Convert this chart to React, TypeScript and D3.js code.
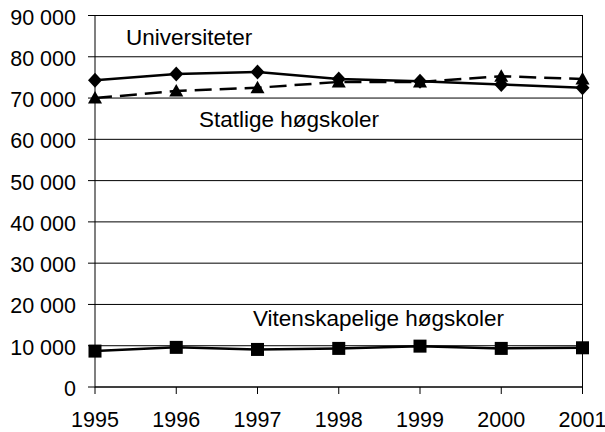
import * as d3 from "d3";

const years = [1995, 1996, 1997, 1998, 1999, 2000, 2001];
const universiteter = [74300, 75800, 76300, 74600, 74100, 73300, 72500];
const statlige = [70000, 71700, 72500, 73900, 73900, 75300, 74600];
const vitenskapelige = [8700, 9600, 9100, 9350, 9900, 9350, 9500];
const yTicks = [0, 10000, 20000, 30000, 40000, 50000, 60000, 70000, 80000, 90000];

const width = 605;
const height = 432;
const margin = { top: 15.5, right: 22.5, bottom: 45, left: 95 };

const fmt = (v: number) =>
  v === 0 ? "0" : `${Math.floor(v / 1000)} ${String(v % 1000).padStart(3, "0")}`;

export default function App() {
  const x = d3
    .scalePoint<number>()
    .domain(years)
    .range([margin.left, width - margin.right]);
  const y = d3
    .scaleLinear()
    .domain([0, 90000])
    .range([height - margin.bottom, margin.top]);

  const line = d3
    .line<number>()
    .x((_, i) => x(years[i])!)
    .y((d) => y(d));

  const font = "'Liberation Sans', Arial, sans-serif";
  const x0 = margin.left;
  const x1 = width - margin.right;
  const yb = y(0);

  return (
    <svg
      width={width}
      height={height}
      style={{ position: "absolute", left: 0, top: 0, background: "#fff" }}
      fontFamily={font}
    >
      {/* grid + y ticks */}
      {yTicks.map((t) => (
        <g key={t}>
          <line x1={x0 - 7} x2={x1} y1={y(t)} y2={y(t)} stroke="#000" strokeWidth={1} />
          <text x={x0 - 19} y={y(t)} dy="0.42em" textAnchor="end" fontSize={21.5}>
            {fmt(t)}
          </text>
        </g>
      ))}
      {/* frame */}
      <rect x={x0} y={margin.top} width={x1 - x0} height={yb - margin.top} fill="none" stroke="#000" strokeWidth={1} />
      {/* x ticks */}
      {years.map((yr) => (
        <g key={yr}>
          <line x1={x(yr)} x2={x(yr)} y1={yb} y2={yb + 7} stroke="#000" />
          <text x={x(yr)} y={yb + 40} textAnchor="middle" fontSize={21.5}>
            {yr}
          </text>
        </g>
      ))}

      {/* Statlige høgskoler (dashed, triangles) */}
      <path d={line(statlige)!} fill="none" stroke="#000" strokeWidth={2.5} strokeDasharray="17,8" />
      {statlige.map((v, i) => {
        const cx = x(years[i])!;
        const cy = y(v);
        return (
          <path key={i} d={`M${cx},${cy - 7}L${cx + 7},${cy + 5.5}L${cx - 7},${cy + 5.5}Z`} fill="#000" />
        );
      })}

      {/* Universiteter (solid, diamonds) */}
      <path d={line(universiteter)!} fill="none" stroke="#000" strokeWidth={2.5} />
      {universiteter.map((v, i) => {
        const cx = x(years[i])!;
        const cy = y(v);
        return (
          <path key={i} d={`M${cx},${cy - 7.5}L${cx + 7},${cy}L${cx},${cy + 7.5}L${cx - 7},${cy}Z`} fill="#000" />
        );
      })}

      {/* Vitenskapelige høgskoler (solid, squares) */}
      <path d={line(vitenskapelige)!} fill="none" stroke="#000" strokeWidth={2.5} />
      {vitenskapelige.map((v, i) => (
        <rect key={i} x={x(years[i])! - 6.5} y={y(v) - 6.5} width={13} height={13} fill="#000" />
      ))}

      {/* series labels */}
      <text x={126} y={45} fontSize={22.5}>Universiteter</text>
      <text x={199} y={127} fontSize={22.5}>Statlige høgskoler</text>
      <text x={253} y={326} fontSize={22.5}>Vitenskapelige høgskoler</text>
    </svg>
  );
}
